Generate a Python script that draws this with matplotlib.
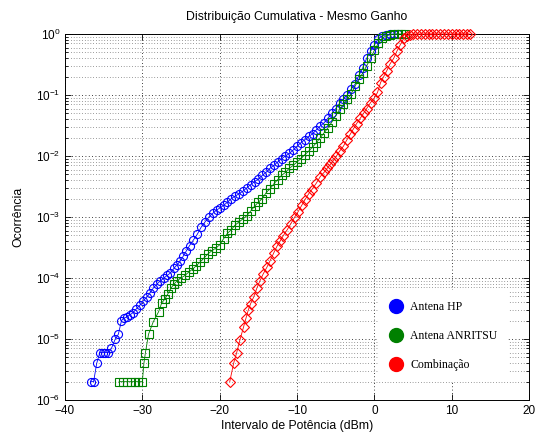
import matplotlib
matplotlib.use("Agg")
import matplotlib.pyplot as plt
from matplotlib.lines import Line2D

# curvas (potencia em dBm, ocorrencia acumulada)
hp_x = [-36.6, -36.3, -35.9, -35.5, -35.1, -34.8, -34.4, -34.0, -33.5, -33.1,
        -32.7, -32.4, -32.0, -31.6, -31.2, -30.8, -30.3, -29.9, -29.4, -29.0,
        -28.6, -28.1, -27.7, -27.2, -26.8, -26.4, -25.9, -25.5, -25.1, -24.7,
        -24.3, -23.9, -23.4, -22.9, -22.4, -21.9, -21.4, -20.9, -20.4, -20.0,
        -19.5, -19.0, -18.5, -18.0, -17.5, -17.0, -16.5, -16.0, -15.5, -15.0,
        -14.5, -14.0, -13.5, -13.0, -12.5, -12.0, -11.5, -11.0, -10.5, -10.0,
        -9.5, -9.0, -8.5, -8.0, -7.5, -7.0, -6.5, -6.0, -5.5, -5.0,
        -4.5, -4.0, -3.5, -3.0, -2.5, -2.0, -1.5, -1.0, -0.5, 0.0,
        0.5, 1.0, 1.5, 2.0, 2.5, 3.0]
hp_y = [2.0e-6, 2.0e-6, 4.0e-6, 6.0e-6, 6.0e-6, 6.0e-6, 6.0e-6, 7.0e-6, 1.0e-5, 1.2e-5,
        2.0e-5, 2.2e-5, 2.3e-5, 2.5e-5, 2.7e-5, 3.1e-5, 3.6e-5, 4.2e-5, 4.9e-5, 5.7e-5,
        6.8e-5, 8.0e-5, 8.9e-5, 1.0e-4, 1.1e-4, 1.2e-4, 1.45e-4, 1.65e-4, 1.9e-4, 2.3e-4,
        2.8e-4, 3.4e-4, 4.2e-4, 5.2e-4, 6.8e-4, 8.3e-4, 1.0e-3, 1.15e-3, 1.3e-3, 1.4e-3,
        1.55e-3, 1.75e-3, 2.0e-3, 2.2e-3, 2.4e-3, 2.65e-3, 3.0e-3, 3.4e-3, 3.8e-3, 4.2e-3,
        4.8e-3, 5.4e-3, 6.3e-3, 7.0e-3, 8.0e-3, 9.0e-3, 1.0e-2, 1.1e-2, 1.25e-2, 1.45e-2,
        1.65e-2, 1.85e-2, 2.1e-2, 2.3e-2, 2.7e-2, 3.1e-2, 3.5e-2, 4.2e-2, 5.0e-2, 6.0e-2,
        7.3e-2, 8.7e-2, 1.0e-1, 1.25e-1, 1.5e-1, 2.1e-1, 2.8e-1, 4.0e-1, 5.2e-1, 6.6e-1,
        8.3e-1, 9.3e-1, 9.7e-1, 9.9e-1, 1.0, 1.0]

anr_x = [-33.0, -32.5, -32.0, -31.5, -31.0, -30.5, -30.0, -29.8, -29.6, -29.2,
         -28.6, -27.9, -27.5, -27.1, -26.7, -26.3, -25.9, -25.5, -25.0, -24.5,
         -24.0, -23.5, -23.0, -22.5, -22.0, -21.5, -21.0, -20.5, -20.0, -19.5,
         -19.0, -18.5, -18.0, -17.5, -17.0, -16.5, -16.0, -15.5, -15.0, -14.5,
         -14.0, -13.5, -13.0, -12.5, -12.0, -11.5, -11.0, -10.5, -10.0, -9.5,
         -9.0, -8.5, -8.0, -7.5, -7.0, -6.5, -6.0, -5.5, -5.0, -4.5,
         -4.0, -3.5, -3.0, -2.5, -2.0, -1.5, -1.0, -0.5, 0.0, 0.5,
         1.0, 1.5, 2.0, 2.5, 3.0, 3.5, 4.0]
anr_y = [2e-6, 2e-6, 2e-6, 2e-6, 2e-6, 2e-6, 2e-6, 4e-6, 6e-6, 1.2e-5,
         1.9e-5, 2.8e-5, 3.9e-5, 4.5e-5, 5.5e-5, 6.8e-5, 8.0e-5, 9.0e-5, 1.0e-4, 1.1e-4,
         1.25e-4, 1.4e-4, 1.6e-4, 1.85e-4, 2.15e-4, 2.5e-4, 2.8e-4, 3.1e-4, 3.5e-4, 4.4e-4,
         5.4e-4, 6.2e-4, 7.4e-4, 8.3e-4, 9.3e-4, 1.05e-3, 1.25e-3, 1.5e-3, 1.75e-3, 2.0e-3,
         2.5e-3, 2.9e-3, 3.5e-3, 4.1e-3, 4.8e-3, 5.4e-3, 6.3e-3, 7.0e-3, 8.0e-3, 9.0e-3,
         1.05e-2, 1.2e-2, 1.4e-2, 1.65e-2, 2.0e-2, 2.4e-2, 2.9e-2, 3.6e-2, 4.6e-2, 5.8e-2,
         7.0e-2, 8.5e-2, 1.05e-1, 1.4e-1, 1.8e-1, 2.3e-1, 3.0e-1, 4.0e-1, 5.4e-1, 7.0e-1,
         8.5e-1, 9.3e-1, 9.7e-1, 9.9e-1, 1.0, 1.0, 1.0]

comb_x = [-18.7, -18.2, -17.8, -17.4, -16.9, -16.6, -16.3, -16.0, -15.6, -15.2,
          -14.8, -14.4, -13.9, -13.5, -13.0, -12.6, -12.2, -11.8, -11.3, -10.8,
          -10.3, -9.9, -9.4, -9.0, -8.5, -8.1, -7.5, -7.0, -6.5, -6.1,
          -5.7, -5.3, -4.9, -4.5, -4.0, -3.6, -3.1, -2.7, -2.3, -1.8,
          -1.4, -1.0, -0.5, 0.0, 0.4, 0.8, 1.2, 1.6, 2.0, 2.5,
          2.9, 3.3, 3.8, 4.2, 4.6, 5.0, 5.5, 6.0, 6.5, 7.0,
          7.5, 8.0, 8.5, 9.0, 9.5, 10.0, 10.5, 11.0, 11.5, 12.0, 12.3]
comb_y = [2e-6, 4e-6, 6e-6, 9.5e-6, 1.6e-5, 2.2e-5, 3.0e-5, 3.8e-5, 4.9e-5, 6.8e-5,
          9.0e-5, 1.15e-4, 1.5e-4, 1.9e-4, 2.6e-4, 3.3e-4, 4.0e-4, 4.9e-4, 6.1e-4, 7.8e-4,
          1.0e-3, 1.2e-3, 1.55e-3, 1.9e-3, 2.4e-3, 2.8e-3, 3.6e-3, 4.6e-3, 5.4e-3, 6.3e-3,
          7.3e-3, 8.5e-3, 1.0e-2, 1.2e-2, 1.45e-2, 1.8e-2, 2.3e-2, 2.8e-2, 3.4e-2, 4.2e-2,
          5.0e-2, 6.0e-2, 7.5e-2, 9.0e-2, 1.1e-1, 1.6e-1, 2.0e-1, 2.5e-1, 3.2e-1, 4.0e-1,
          5.2e-1, 6.5e-1, 8.5e-1, 9.4e-1, 9.8e-1, 1.0, 1.0, 1.0, 1.0, 1.0,
          1.0, 1.0, 1.0, 1.0, 1.0, 1.0, 1.0, 1.0, 1.0, 1.0, 1.0]

labels = ["Antena HP", "Antena ANRITSU", "Combinação"]
cores = ["#0000ff", "#008000", "#ff0000"]

plt.rcParams['font.family'] = ['Liberation Sans', 'DejaVu Sans']

fig = plt.figure(figsize=(5.39, 4.40), dpi=100)
ax = fig.add_axes([0.1206, 0.0909, 0.861, 0.8318])

series = [(hp_x, hp_y, 'o'), (anr_x, anr_y, 's'), (comb_x, comb_y, 'D')]
for (xs, ys, mk), cor in zip(series, cores):
    ax.semilogy(xs, ys, color=cor, lw=0.6, marker=mk,
                ms=5.8 if mk != 'D' else 5.0, mfc='none', mec=cor, mew=0.8,
                clip_on=False, zorder=3)

ax.set_xlim(-40, 20)
ax.set_ylim(1e-6, 1)
ax.set_xticks([-40, -30, -20, -10, 0, 10, 20])

# grade pontilhada estilo MATLAB (pontos espaçados)
ax.grid(True, which='major', axis='both', ls=(0, (1, 3)), color='k', lw=0.6)
ax.grid(True, which='minor', axis='y', ls=(0, (1, 3)), color='0.25', lw=0.5)
ax.tick_params(which='both', direction='in', top=True, right=True,
               labelsize=8.5, width=0.6)
ax.tick_params(which='major', length=4)
ax.tick_params(which='minor', length=2)
for s in ax.spines.values():
    s.set_linewidth(0.7)

ax.set_title("Distribuição Cumulativa - Mesmo Ganho", fontsize=8.8, pad=10)
ax.set_xlabel("Intervalo de Potência (dBm)", fontsize=8.8, labelpad=2)
ax.set_ylabel("Ocorrência", fontsize=8.8, labelpad=8)

handles = [Line2D([], [], ls='none', marker='o', ms=10, mfc=c, mec=c) for c in cores]
leg = ax.legend(handles, labels, loc='upper left', bbox_to_anchor=(0.675, 0.30),
                prop={'family': 'Liberation Serif', 'size': 8.5},
                frameon=True, fancybox=False, framealpha=1, facecolor='white',
                edgecolor='none', handlelength=1.2, handletextpad=0.6,
                labelspacing=1.45, borderpad=0.9, borderaxespad=0)
leg.set_zorder(5)

plt.savefig("out.png", dpi=100)
